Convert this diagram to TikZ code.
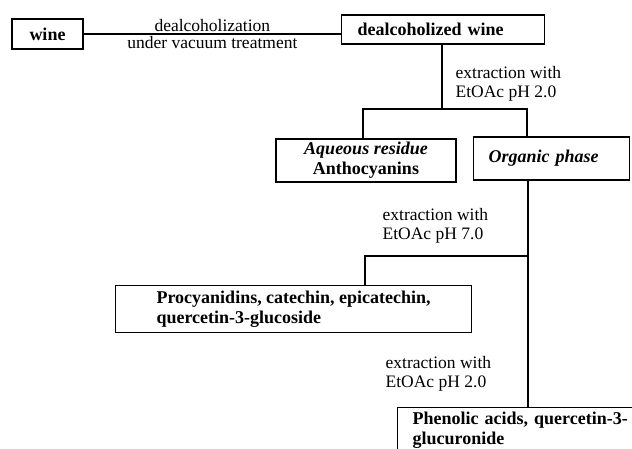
\documentclass[tikz,border=0pt]{standalone}
\usepackage{fontspec}
\setmainfont{Liberation Serif}
\begin{document}
\begin{tikzpicture}[x=1pt,y=-1pt,
  line width=1.3pt,
  box/.style={draw, line width=1.3pt, font=\fontsize{18}{20}\selectfont\bfseries, inner sep=0pt},
  lbl/.style={font=\fontsize{17.5}{19}\selectfont, inner sep=0pt, align=left, anchor=north west}]
\useasboundingbox (0,0) rectangle (632,449);
\clip (0,0) rectangle (632,449);
% boxes
\node[box, minimum width=71pt, minimum height=30pt] (wine) at (47.5,34) {wine};
\node[box, anchor=west, inner xsep=16pt, text width=171pt, align=left, minimum height=29pt] (dw) at (341,29.5) {dealcoholized wine};
\node[box, minimum width=180pt, minimum height=43pt, align=center] (aq) at (366,160.5) {\itshape Aqueous residue\\Anthocyanins};
\node[box, anchor=west, inner xsep=15pt, text width=126pt, align=left, minimum height=43pt] (org) at (473,158.5) {\itshape Organic phase};
\node[box, anchor=north west, align=left, minimum width=356pt, minimum height=47pt, xshift=0pt] (proc) at (115,285) {Procyanidins, catechin, epicatechin,\\quercetin-3-glucoside};
\node[box, anchor=north west, inner xsep=15pt, inner ysep=4pt, text width=260pt, align=left] (ph) at (397,407) {Phenolic acids, quercetin-3-\\glucuronide};
% labels
\node[lbl] (l1) at (455,66) {extraction with\\EtOAc pH 2.0};
\node[lbl] (l2) at (382,208) {extraction with\\EtOAc pH 7.0};
\node[lbl] (l3) at (385,356) {extraction with\\EtOAc pH 2.0};
% connectors
\draw (wine.east) -- node[above, font=\fontsize{17.5}{19}\selectfont, inner sep=1.5pt] (t1) {dealcoholization}
  node[below, font=\fontsize{17.5}{19}\selectfont, inner sep=2pt] (t2) {under vacuum treatment} (wine.east -| dw.west);
\coordinate (j1) at (442,109);
\coordinate (j1l) at (363,109);
\coordinate (j1r) at (527,109);
\draw (dw.south -| j1) -- (j1);
\draw (aq.north -| j1l) -- (j1l) -- (j1r) -- (org.north -| j1r);
\coordinate (j2) at (528,256);
\coordinate (j2l) at (365,256);
\draw (org.south -| j2) -- (ph.north -| j2);
\draw (j2) -- (j2l) -- (proc.north -| j2l);
\end{tikzpicture}
\end{document}
